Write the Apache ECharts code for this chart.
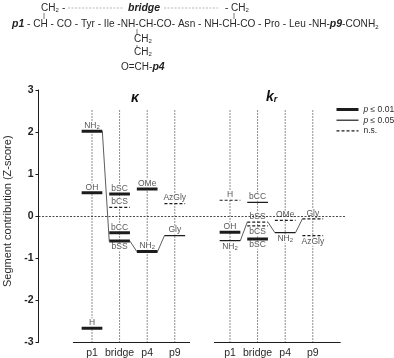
<!DOCTYPE html>
<html><head><meta charset="utf-8">
<style>html,body{margin:0;padding:0;background:#fff}#c{width:394px;height:358px}</style>
<script src="https://cdn.jsdelivr.net/npm/echarts@6/dist/echarts.min.js"></script>
</head><body><div id="c"></div>
<script>
const positionNames = ['p1','bridge','p4','p9'];
const kappaPositions = [0,1,2,3];
const krPositions = [5,6,7,8];
const yTicks = [-3,-2,-1,0,1,2,3];

// segment index (into positionNames), residue label, Z-score, significance class
const kappaSegments = [0,0,0,1,1,1,1,2,2,3,3];
const kappaLabels   = ['NH2','OH','H','bSC','bCS','bCC','bSS','OMe','NH2','AzGly','Gly'];
const kappaValues   = [2.02,0.56,-2.66,0.53,0.21,-0.39,-0.59,0.65,-0.84,0.30,-0.46];
const kappaSig      = ['s','s','s','s','n','s','s','s','s','n','t'];

const krSegments = [0,0,0,1,1,1,1,2,2,3,3];
const krLabels   = ['H','OH','NH2','bCC','bSS','bCS','bSC','OMe','NH2','Gly','AzGly'];
const krValues   = [0.38,-0.38,-0.58,0.33,-0.14,-0.23,-0.54,-0.10,-0.39,-0.06,-0.46];
const krSig      = ['n','s','t','t','n','n','s','n','t','n','n'];

const kappaPath = ['NH2','bSS','NH2','Gly'];
const krPath    = ['NH2','bSS','NH2','Gly'];

const legendNames = {s:'p ≤ 0.01', t:'p ≤ 0.05', n:'n.s.'};

const HALF = 0.375, XMIN = -1.938, XMAX = 9.167;
const krBelow = {NH2:1,bCS:1,bSC:1,AzGly:1};
const kappaBelow = {bSS:1};

function makeLevels(panelPos, seg, lab, val, sig){
  return lab.map((l,i)=>({x:panelPos[seg[i]],seg:seg[i],label:l,y:val[i],sig:sig[i]}));
}
const kappa = makeLevels(kappaPositions,kappaSegments,kappaLabels,kappaValues,kappaSig);
const kr = makeLevels(krPositions,krSegments,krLabels,krValues,krSig);
const all = kappa.concat(kr);

function levelData(key){
  const d=[];
  all.filter(l=>l.sig===key).forEach(l=>{d.push([l.x-HALF,l.y],[l.x+HALF,l.y],[l.x+HALF,null]);});
  return d;
}
function pathData(levels,path){
  const d=[];
  path.forEach((name,i)=>{
    if(i===path.length-1) return;
    const a=levels.find(l=>l.label===name&&l.seg===i);
    const b=levels.find(l=>l.label===path[i+1]&&l.seg===i+1);
    d.push([a.x+HALF,a.y],[b.x-HALF,b.y],[b.x-HALF,null]);
  });
  return d;
}
function guideData(){
  const d=[];
  kappaPositions.concat(krPositions).forEach(x=>d.push([x,-3],[x,2.54],[x,null]));
  return d;
}
const ink='#1c1c1c';
const lblRich={s:{fontSize:6,verticalAlign:'bottom',color:'#2a2a2a',fontFamily:'Liberation Sans',padding:[4,0,0,0]}};
function fmtLabel(t){return t==='NH2'?'NH{s|2}':t;}
function labelSeries(levels,below){
  return {type:'scatter',symbolSize:0,z:3,silent:true,
    data:levels.map(l=>({value:[l.x,l.y],name:l.label,
      label:{show:true,position:below[l.label]?'bottom':'top',distance:below[l.label]?1.5:1,
        formatter:fmtLabel(l.label),fontSize:8.5,color:'#2a2a2a',fontFamily:'Liberation Sans',
        backgroundColor:'#fff',padding:[0,1,0,1],lineHeight:9,rich:lblRich}}))};
}
function seriesLevel(key,width,type){
  return {type:'line',name:legendNames[key],symbol:'none',z:5,silent:true,
    itemStyle:{color:ink},data:levelData(key),lineStyle:{color:ink,width:width,type:type}};
}
const series=[
  {type:'line',symbol:'none',z:1,silent:true,data:guideData(),
   lineStyle:{color:ink,width:1,type:[1,2]},
   markLine:{silent:true,symbol:'none',label:{show:false},animation:false,
     lineStyle:{color:ink,width:0.8,type:[2,1.5]},data:[{yAxis:0}]}},
  {type:'line',symbol:'none',z:4,silent:true,data:[[-0.69,-3],[3.55,-3],[3.55,null],[4.42,-3],[9.01,-3],[9.01,null]],
   lineStyle:{color:ink,width:1,type:'solid'}},
  {type:'line',symbol:'none',z:6,silent:true,data:pathData(kappa,kappaPath).concat(pathData(kr,krPath)),
   lineStyle:{color:'#333',width:0.8,type:'solid'}},
  labelSeries(kappa,kappaBelow),
  labelSeries(kr,krBelow),
  seriesLevel('s',3,'solid'),
  seriesLevel('t',1.2,'solid'),
  seriesLevel('n',1.2,[3,2])
];
function txt(x,y,text,extra){
  return {type:'text',left:x,top:y,silent:true,style:Object.assign({text:text,fontFamily:'Liberation Sans',fontSize:10,fill:'#2a2a2a',
    rich:{b:{fontWeight:'bold',fontStyle:'italic',fontSize:10.5,fill:'#222',fontFamily:'Liberation Sans'},
          s:{fontSize:6,verticalAlign:'bottom',fontFamily:'Liberation Sans',fill:'#2a2a2a',padding:[3,0,0,0]}}},extra||{})};
}
function seg(x1,y1,x2,y2,dash){
  return {type:'line',silent:true,shape:{x1,y1,x2,y2},style:{stroke:dash?'#999':'#444',lineWidth:0.7,lineDash:dash?[2,1.5]:null}};
}
const chart=echarts.init(document.getElementById('c'),null,{renderer:'canvas'});
chart.setOption({
  animation:false,backgroundColor:'#fff',
  grid:{left:38.5,top:90,width:306.5,height:252.5,containLabel:false,outerBoundsMode:'none'},
  xAxis:{type:'value',min:XMIN,max:XMAX,splitLine:{show:false},axisLine:{show:false},axisTick:{show:false},
    axisLabel:{customValues:kappaPositions.concat(krPositions),margin:5,fontSize:10.5,color:'#2a2a2a',fontFamily:'Liberation Sans',
      formatter:v=>positionNames[v>=5?v-5:v]}},
  yAxis:{type:'value',min:-3,max:3,interval:1,splitLine:{show:false},
    name:'Segment contribution (Z-score)',nameLocation:'middle',nameGap:25,
    nameTextStyle:{fontSize:11,color:'#2a2a2a',fontFamily:'Liberation Sans',padding:[0,0,0,10]},
    axisLine:{show:true,onZero:false,lineStyle:{color:ink,width:1}},
    axisTick:{show:true,length:3,lineStyle:{color:ink,width:1}},
    axisLabel:{margin:5,fontSize:10.5,fontWeight:'bold',color:'#222',fontFamily:'Liberation Sans',
      formatter:v=>yTicks.includes(v)?String(v):''}},
  legend:{orient:'vertical',left:335,top:105,padding:0,itemWidth:22,itemHeight:8,itemGap:1.7,
    itemStyle:{opacity:0},lineStyle:{width:'inherit'},
    data:[legendNames.s,legendNames.t,legendNames.n],selectedMode:false,
    textStyle:{fontSize:8.5,color:'#2a2a2a',fontFamily:'Liberation Sans',
      rich:{i:{fontStyle:'italic',fontSize:8.5,color:'#2a2a2a',fontFamily:'Liberation Sans'}}},
    formatter:n=>n.startsWith('p')?'{i|p}'+n.slice(1):n},
  series:series,
  graphic:[
    txt(41,3,'CH{s|2}'), txt(62,3,'-'),
    seg(68,8,124,8,true),
    txt(128,3,'{b|bridge}'),
    seg(164,8,218,8,true),
    txt(225,3,'- CH{s|2}'),
    seg(44,13,44,19), seg(234,13,234,19),
    txt(12,19,'{b|p1} - CH - CO - Tyr - Ile -NH-CH-CO- Asn - NH-CH-CO - Pro - Leu -NH-{b|p9}-CONH{s|2}',{fontSize:10.1}),
    seg(137,29,137,35), seg(137,45,137,48),
    txt(134,34,'CH{s|2}'), txt(134,47,'CH{s|2}'),
    txt(121,62,'O=CH-{b|p4}'),
    txt(131,91,'κ',{fontSize:14,fontWeight:'bold',fontStyle:'italic',fill:'#111'}),
    txt(266,90,'k{r|r}',{fontSize:14,fontWeight:'bold',fontStyle:'italic',fill:'#111',
      rich:{r:{fontSize:9,fontWeight:'bold',fontStyle:'italic',fontFamily:'Liberation Sans',verticalAlign:'bottom',padding:[5,0,0,0]}}})
  ]
});
</script></body></html>
